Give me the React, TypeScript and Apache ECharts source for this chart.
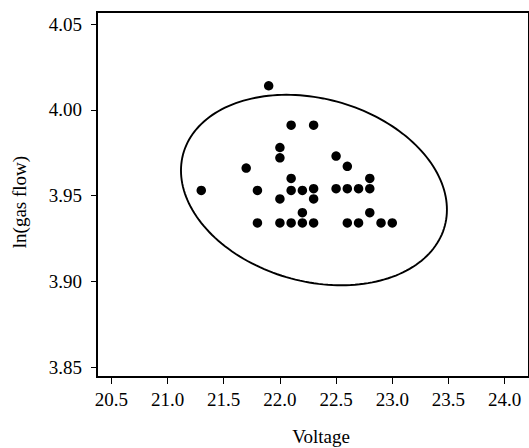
import React, { useEffect, useRef } from "react";
import * as echarts from "echarts";

// Data
const voltage = [
  21.9, 22.1, 22.3, 22.0, 22.0, 22.5, 22.6, 21.7, 21.3, 21.8, 22.1, 22.1, 22.2, 22.3, 22.3, 22.0,
  22.5, 22.6, 22.7, 22.8, 22.8, 22.2, 22.8, 21.8, 22.0, 22.1, 22.2, 22.3, 22.6, 22.7, 22.9, 23.0,
];
const lnGasFlow = [
  4.014, 3.991, 3.991, 3.978, 3.972, 3.973, 3.967, 3.966, 3.953, 3.953, 3.96, 3.953, 3.953, 3.954, 3.948, 3.948,
  3.954, 3.954, 3.954, 3.954, 3.96, 3.94, 3.94, 3.934, 3.934, 3.934, 3.934, 3.934, 3.934, 3.934, 3.934, 3.934,
];

// Ellipse: centre and shape matrix (data units)
const ellipseCenter = [22.303, 3.9532];
const ellipseShape = [
  [1.4007, -0.0135],
  [-0.0135, 0.003082],
];

const xTicks = [20.5, 21.0, 21.5, 22.0, 22.5, 23.0, 23.5, 24.0];
const yTicks = [3.85, 3.9, 3.95, 4.0, 4.05];
const xRange = [20.372, 24.217];
const yRange = [3.8442, 4.057];

const FONT = "'Liberation Serif', 'Times New Roman', serif";

export default function App() {
  const ref = useRef<HTMLDivElement>(null);

  useEffect(() => {
    if (!ref.current) return;
    const chart = echarts.init(ref.current, null, { renderer: "svg" });
    const points = voltage.map((v, i) => [v, lnGasFlow[i]]);

    const option: any = {
      animation: false,
      backgroundColor: "#fff",
      grid: {
        show: true,
        left: 97,
        top: 12,
        right: -10,
        bottom: 71,
        borderColor: "#000",
        borderWidth: 2,
        backgroundColor: "transparent",
      },
      xAxis: {
        type: "value",
        min: xRange[0],
        max: xRange[1],
        axisLine: { show: false },
        splitLine: { show: false },
        axisTick: {
          show: true,
          inside: false,
          length: 7,
          customValues: xTicks,
          lineStyle: { color: "#000", width: 1 },
        },
        axisLabel: {
          show: true,
          customValues: xTicks,
          formatter: (v: number) => v.toFixed(1),
          color: "#000",
          fontFamily: FONT,
          fontSize: 19,
          margin: 13,
          showMinLabel: true,
          showMaxLabel: true,
        },
      },
      yAxis: {
        type: "value",
        min: yRange[0],
        max: yRange[1],
        axisLine: { show: false },
        splitLine: { show: false },
        axisTick: {
          show: true,
          inside: false,
          length: 6,
          customValues: yTicks,
          lineStyle: { color: "#000", width: 1 },
        },
        axisLabel: {
          show: true,
          customValues: yTicks,
          formatter: (v: number) => v.toFixed(2),
          color: "#000",
          fontFamily: FONT,
          fontSize: 19,
          margin: 15,
          showMinLabel: true,
          showMaxLabel: true,
        },
      },
      graphic: [
        {
          type: "text",
          x: 321,
          y: 436,
          style: {
            text: "Voltage",
            fontFamily: FONT,
            fontSize: 19,
            fill: "#000",
            align: "center",
            verticalAlign: "middle",
          },
        },
        {
          type: "text",
          x: 19,
          y: 202,
          rotation: Math.PI / 2,
          style: {
            text: "ln(gas flow)",
            fontFamily: FONT,
            fontSize: 19,
            fill: "#000",
            align: "center",
            verticalAlign: "middle",
          },
        },
      ],
      series: [
        {
          type: "custom",
          data: [ellipseCenter],
          clip: false,
          silent: true,
          renderItem: (params: any, api: any) => {
            const a = Math.sqrt(ellipseShape[0][0]);
            const c = ellipseShape[0][1] / a;
            const d = Math.sqrt(ellipseShape[1][1] - c * c);
            const cx = ellipseCenter[0];
            const cy = ellipseCenter[1];
            const pts: number[][] = [];
            const n = 180;
            for (let i = 0; i < n; i++) {
              const t = (i / n) * Math.PI * 2;
              pts.push(api.coord([cx + a * Math.cos(t), cy + c * Math.cos(t) + d * Math.sin(t)]));
            }
            return {
              type: "polygon",
              shape: { points: pts },
              style: { fill: "none", stroke: "#000", lineWidth: 1.9 },
            };
          },
        },
        {
          type: "scatter",
          data: points,
          symbol: "circle",
          symbolSize: 9.5,
          itemStyle: { color: "#000", opacity: 1 },
        },
      ],
    };

    chart.setOption(option);
    return () => chart.dispose();
  }, []);

  return (
    <div
      ref={ref}
      style={{ position: "fixed", left: 0, top: 0, width: 529, height: 448, background: "#fff" }}
    />
  );
}
